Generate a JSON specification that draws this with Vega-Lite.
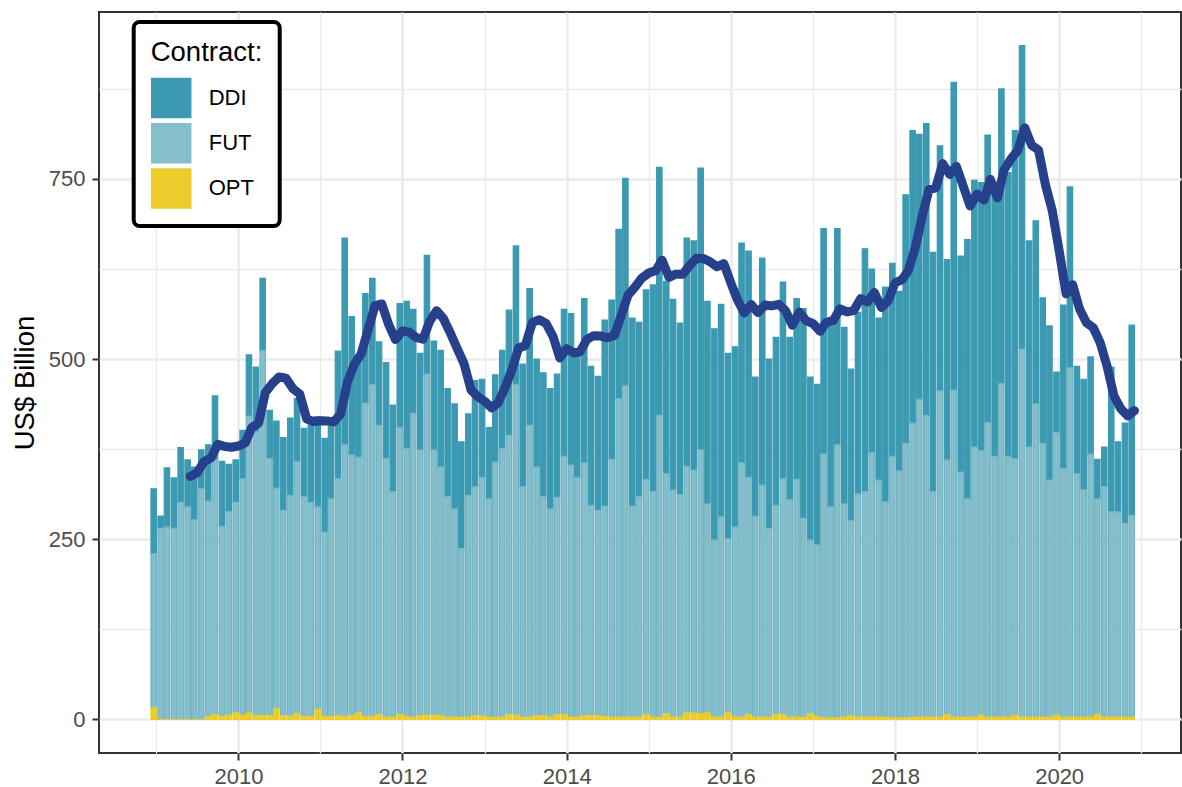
{
  "$schema": "https://vega.github.io/schema/vega-lite/v6.json",
  "width": 1082,
  "height": 741,
  "autosize": "none",
  "padding": {"left": 99, "top": 12, "right": 1, "bottom": 34},
  "background": "white",
  "config": {
    "font": "Liberation Sans",
    "view": {"stroke": "#333333", "strokeWidth": 2},
    "legend": {"strokeWidth": 4}
  },
  "data": {
    "values": [
      {"d":"2009-01-01","DDI":90,"FUT":214,"OPT":16},
      {"d":"2009-02-01","DDI":17,"FUT":265,"OPT":0},
      {"d":"2009-03-01","DDI":82,"FUT":267,"OPT":0},
      {"d":"2009-04-01","DDI":70,"FUT":265,"OPT":0},
      {"d":"2009-05-01","DDI":76,"FUT":301,"OPT":0},
      {"d":"2009-06-01","DDI":65,"FUT":295,"OPT":0},
      {"d":"2009-07-01","DDI":73,"FUT":277,"OPT":0},
      {"d":"2009-08-01","DDI":54,"FUT":320,"OPT":0},
      {"d":"2009-09-01","DDI":78,"FUT":299,"OPT":4},
      {"d":"2009-10-01","DDI":89,"FUT":353,"OPT":7},
      {"d":"2009-11-01","DDI":90,"FUT":264,"OPT":4},
      {"d":"2009-12-01","DDI":66,"FUT":282,"OPT":6},
      {"d":"2010-01-01","DDI":59,"FUT":292,"OPT":9},
      {"d":"2010-02-01","DDI":67,"FUT":328,"OPT":6},
      {"d":"2010-03-01","DDI":85,"FUT":412,"OPT":9},
      {"d":"2010-04-01","DDI":90,"FUT":394,"OPT":5},
      {"d":"2010-05-01","DDI":100,"FUT":507,"OPT":5},
      {"d":"2010-06-01","DDI":67,"FUT":357,"OPT":5},
      {"d":"2010-07-01","DDI":93,"FUT":306,"OPT":15},
      {"d":"2010-08-01","DDI":101,"FUT":285,"OPT":5},
      {"d":"2010-09-01","DDI":107,"FUT":307,"OPT":4},
      {"d":"2010-10-01","DDI":87,"FUT":350,"OPT":8},
      {"d":"2010-11-01","DDI":95,"FUT":305,"OPT":4},
      {"d":"2010-12-01","DDI":107,"FUT":297,"OPT":4},
      {"d":"2011-01-01","DDI":125,"FUT":281,"OPT":14},
      {"d":"2011-02-01","DDI":130,"FUT":256,"OPT":4},
      {"d":"2011-03-01","DDI":104,"FUT":302,"OPT":4},
      {"d":"2011-04-01","DDI":177,"FUT":329,"OPT":5},
      {"d":"2011-05-01","DDI":287,"FUT":377,"OPT":4},
      {"d":"2011-06-01","DDI":192,"FUT":362,"OPT":5},
      {"d":"2011-07-01","DDI":141,"FUT":355,"OPT":9},
      {"d":"2011-08-01","DDI":152,"FUT":435,"OPT":4},
      {"d":"2011-09-01","DDI":147,"FUT":461,"OPT":4},
      {"d":"2011-10-01","DDI":116,"FUT":401,"OPT":7},
      {"d":"2011-11-01","DDI":133,"FUT":359,"OPT":3},
      {"d":"2011-12-01","DDI":120,"FUT":313,"OPT":3},
      {"d":"2012-01-01","DDI":172,"FUT":398,"OPT":7},
      {"d":"2012-02-01","DDI":204,"FUT":372,"OPT":4},
      {"d":"2012-03-01","DDI":144,"FUT":422,"OPT":3},
      {"d":"2012-04-01","DDI":134,"FUT":369,"OPT":5},
      {"d":"2012-05-01","DDI":165,"FUT":473,"OPT":6},
      {"d":"2012-06-01","DDI":151,"FUT":368,"OPT":6},
      {"d":"2012-07-01","DDI":162,"FUT":345,"OPT":5},
      {"d":"2012-08-01","DDI":150,"FUT":306,"OPT":3},
      {"d":"2012-09-01","DDI":146,"FUT":289,"OPT":3},
      {"d":"2012-10-01","DDI":148,"FUT":234,"OPT":3},
      {"d":"2012-11-01","DDI":113,"FUT":308,"OPT":3},
      {"d":"2012-12-01","DDI":147,"FUT":318,"OPT":5},
      {"d":"2013-01-01","DDI":136,"FUT":331,"OPT":5},
      {"d":"2013-02-01","DDI":99,"FUT":303,"OPT":3},
      {"d":"2013-03-01","DDI":121,"FUT":354,"OPT":3},
      {"d":"2013-04-01","DDI":136,"FUT":373,"OPT":3},
      {"d":"2013-05-01","DDI":174,"FUT":387,"OPT":7},
      {"d":"2013-06-01","DDI":192,"FUT":459,"OPT":6},
      {"d":"2013-07-01","DDI":170,"FUT":320,"OPT":3},
      {"d":"2013-08-01","DDI":190,"FUT":405,"OPT":3},
      {"d":"2013-09-01","DDI":150,"FUT":345,"OPT":5},
      {"d":"2013-10-01","DDI":172,"FUT":304,"OPT":5},
      {"d":"2013-11-01","DDI":167,"FUT":289,"OPT":3},
      {"d":"2013-12-01","DDI":171,"FUT":301,"OPT":7},
      {"d":"2014-01-01","DDI":204,"FUT":358,"OPT":7},
      {"d":"2014-02-01","DDI":210,"FUT":350,"OPT":3},
      {"d":"2014-03-01","DDI":174,"FUT":333,"OPT":3},
      {"d":"2014-04-01","DDI":228,"FUT":351,"OPT":5},
      {"d":"2014-05-01","DDI":193,"FUT":292,"OPT":5},
      {"d":"2014-06-01","DDI":186,"FUT":285,"OPT":5},
      {"d":"2014-07-01","DDI":258,"FUT":292,"OPT":4},
      {"d":"2014-08-01","DDI":221,"FUT":358,"OPT":3},
      {"d":"2014-09-01","DDI":235,"FUT":442,"OPT":3},
      {"d":"2014-10-01","DDI":288,"FUT":460,"OPT":3},
      {"d":"2014-11-01","DDI":261,"FUT":293,"OPT":3},
      {"d":"2014-12-01","DDI":242,"FUT":306,"OPT":3},
      {"d":"2015-01-01","DDI":263,"FUT":326,"OPT":7},
      {"d":"2015-02-01","DDI":287,"FUT":313,"OPT":3},
      {"d":"2015-03-01","DDI":344,"FUT":419,"OPT":3},
      {"d":"2015-04-01","DDI":267,"FUT":333,"OPT":8},
      {"d":"2015-05-01","DDI":265,"FUT":315,"OPT":3},
      {"d":"2015-06-01","DDI":238,"FUT":309,"OPT":3},
      {"d":"2015-07-01","DDI":317,"FUT":342,"OPT":9},
      {"d":"2015-08-01","DDI":318,"FUT":337,"OPT":9},
      {"d":"2015-09-01","DDI":391,"FUT":366,"OPT":8},
      {"d":"2015-10-01","DDI":281,"FUT":290,"OPT":9},
      {"d":"2015-11-01","DDI":293,"FUT":246,"OPT":3},
      {"d":"2015-12-01","DDI":295,"FUT":278,"OPT":3},
      {"d":"2016-01-01","DDI":257,"FUT":241,"OPT":10},
      {"d":"2016-02-01","DDI":250,"FUT":264,"OPT":3},
      {"d":"2016-03-01","DDI":305,"FUT":353,"OPT":3},
      {"d":"2016-04-01","DDI":314,"FUT":329,"OPT":7},
      {"d":"2016-05-01","DDI":193,"FUT":279,"OPT":3},
      {"d":"2016-06-01","DDI":315,"FUT":322,"OPT":3},
      {"d":"2016-07-01","DDI":235,"FUT":262,"OPT":3},
      {"d":"2016-08-01","DDI":233,"FUT":290,"OPT":7},
      {"d":"2016-09-01","DDI":273,"FUT":327,"OPT":7},
      {"d":"2016-10-01","DDI":225,"FUT":302,"OPT":3},
      {"d":"2016-11-01","DDI":251,"FUT":330,"OPT":3},
      {"d":"2016-12-01","DDI":291,"FUT":276,"OPT":3},
      {"d":"2017-01-01","DDI":226,"FUT":241,"OPT":8},
      {"d":"2017-02-01","DDI":223,"FUT":238,"OPT":4},
      {"d":"2017-03-01","DDI":313,"FUT":366,"OPT":2},
      {"d":"2017-04-01","DDI":252,"FUT":293,"OPT":2},
      {"d":"2017-05-01","DDI":300,"FUT":379,"OPT":2},
      {"d":"2017-06-01","DDI":245,"FUT":296,"OPT":3},
      {"d":"2017-07-01","DDI":210,"FUT":271,"OPT":5},
      {"d":"2017-08-01","DDI":252,"FUT":310,"OPT":3},
      {"d":"2017-09-01","DDI":337,"FUT":313,"OPT":3},
      {"d":"2017-10-01","DDI":255,"FUT":367,"OPT":3},
      {"d":"2017-11-01","DDI":225,"FUT":329,"OPT":3},
      {"d":"2017-12-01","DDI":298,"FUT":299,"OPT":3},
      {"d":"2018-01-01","DDI":268,"FUT":363,"OPT":2},
      {"d":"2018-02-01","DDI":249,"FUT":343,"OPT":2},
      {"d":"2018-03-01","DDI":345,"FUT":381,"OPT":2},
      {"d":"2018-04-01","DDI":406,"FUT":408,"OPT":3},
      {"d":"2018-05-01","DDI":368,"FUT":441,"OPT":3},
      {"d":"2018-06-01","DDI":405,"FUT":419,"OPT":3},
      {"d":"2018-07-01","DDI":332,"FUT":313,"OPT":3},
      {"d":"2018-08-01","DDI":340,"FUT":453,"OPT":3},
      {"d":"2018-09-01","DDI":278,"FUT":353,"OPT":7},
      {"d":"2018-10-01","DDI":427,"FUT":454,"OPT":3},
      {"d":"2018-11-01","DDI":300,"FUT":340,"OPT":3},
      {"d":"2018-12-01","DDI":360,"FUT":303,"OPT":3},
      {"d":"2019-01-01","DDI":370,"FUT":375,"OPT":3},
      {"d":"2019-02-01","DDI":372,"FUT":367,"OPT":6},
      {"d":"2019-03-01","DDI":399,"FUT":409,"OPT":3},
      {"d":"2019-04-01","DDI":365,"FUT":362,"OPT":3},
      {"d":"2019-05-01","DDI":409,"FUT":463,"OPT":3},
      {"d":"2019-06-01","DDI":394,"FUT":362,"OPT":3},
      {"d":"2019-07-01","DDI":455,"FUT":356,"OPT":6},
      {"d":"2019-08-01","DDI":421,"FUT":511,"OPT":3},
      {"d":"2019-09-01","DDI":286,"FUT":375,"OPT":3},
      {"d":"2019-10-01","DDI":254,"FUT":435,"OPT":3},
      {"d":"2019-11-01","DDI":202,"FUT":380,"OPT":3},
      {"d":"2019-12-01","DDI":214,"FUT":329,"OPT":3},
      {"d":"2020-01-01","DDI":84,"FUT":392,"OPT":6},
      {"d":"2020-02-01","DDI":227,"FUT":345,"OPT":3},
      {"d":"2020-03-01","DDI":251,"FUT":485,"OPT":3},
      {"d":"2020-04-01","DDI":149,"FUT":338,"OPT":3},
      {"d":"2020-05-01","DDI":153,"FUT":316,"OPT":3},
      {"d":"2020-06-01","DDI":135,"FUT":365,"OPT":3},
      {"d":"2020-07-01","DDI":55,"FUT":299,"OPT":7},
      {"d":"2020-08-01","DDI":55,"FUT":320,"OPT":3},
      {"d":"2020-09-01","DDI":201,"FUT":285,"OPT":3},
      {"d":"2020-10-01","DDI":97,"FUT":285,"OPT":3},
      {"d":"2020-11-01","DDI":139,"FUT":269,"OPT":3},
      {"d":"2020-12-01","DDI":264,"FUT":280,"OPT":3}
    ]
  },
  "layer": [
    {
      "transform": [{"fold": ["DDI", "FUT", "OPT"], "as": ["Contract", "value"]}],
      "mark": {"type": "bar", "width": 5.4, "xOffset": -2.7, "strokeWidth": 1.2},
      "encoding": {
        "x": {
          "field": "d",
          "type": "temporal",
          "scale": {
            "type": "utc",
            "domain": [
              {"year": 2008, "month": 5, "date": 13, "utc": true},
              {"year": 2021, "month": 6, "date": 4, "utc": true}
            ]
          },
          "axis": {
            "title": null,
            "values": [
              {"year": 2009, "month": 1, "date": 1, "utc": true},
              {"year": 2010, "month": 1, "date": 1, "utc": true},
              {"year": 2011, "month": 1, "date": 1, "utc": true},
              {"year": 2012, "month": 1, "date": 1, "utc": true},
              {"year": 2013, "month": 1, "date": 1, "utc": true},
              {"year": 2014, "month": 1, "date": 1, "utc": true},
              {"year": 2015, "month": 1, "date": 1, "utc": true},
              {"year": 2016, "month": 1, "date": 1, "utc": true},
              {"year": 2017, "month": 1, "date": 1, "utc": true},
              {"year": 2018, "month": 1, "date": 1, "utc": true},
              {"year": 2019, "month": 1, "date": 1, "utc": true},
              {"year": 2020, "month": 1, "date": 1, "utc": true},
              {"year": 2021, "month": 1, "date": 1, "utc": true}
            ],
            "format": "%Y",
            "formatType": "utc",
            "labelExpr": "utcyear(datum.value) % 2 == 0 ? datum.label : ''",
            "labelFontSize": 22,
            "labelColor": "#4D4D4D",
            "labelPadding": 6,
            "labelFlush": false,
            "labelOverlap": false,
            "domain": false,
            "tickColor": "#333333",
            "tickSize": 7,
            "tickWidth": 2,
            "tickOpacity": {"condition": {"test": "utcyear(datum.value) % 2 == 0", "value": 1}, "value": 0},
            "gridColor": "#EBEBEB",
            "gridWidth": {"condition": {"test": "utcyear(datum.value) % 2 == 0", "value": 2.6}, "value": 1.3}
          }
        },
        "y": {
          "field": "value",
          "type": "quantitative",
          "stack": "zero",
          "scale": {"domain": [-46.75, 981.75], "nice": false, "zero": false},
          "axis": {
            "title": "US$ Billion",
            "titleFontSize": 27.5,
            "titleFontWeight": "normal",
            "titleColor": "black",
            "titleX": -74,
            "titleBaseline": "middle",
            "values": [0, 125, 250, 375, 500, 625, 750, 875],
            "labelExpr": "datum.value % 250 == 0 ? datum.label : ''",
            "labelFontSize": 22,
            "labelColor": "#4D4D4D",
            "labelPadding": 7,
            "domain": false,
            "tickColor": "#333333",
            "tickSize": 7,
            "tickWidth": 2,
            "tickOpacity": {"condition": {"test": "datum.value % 250 == 0", "value": 1}, "value": 0},
            "gridColor": "#EBEBEB",
            "gridWidth": {"condition": {"test": "datum.value % 250 == 0", "value": 2.6}, "value": 1.3}
          }
        },
        "fill": {
          "field": "Contract",
          "type": "nominal",
          "scale": {"domain": ["DDI", "FUT", "OPT"], "range": ["#3B9AB2", "#86BECB", "#EBCC2A"]},
          "legend": {
            "title": "Contract:",
            "orient": "none",
            "legendX": 34.7,
            "legendY": 10,
            "direction": "vertical",
            "symbolType": "square",
            "symbolSize": 1640,
            "symbolStrokeWidth": 0,
            "symbolOpacity": 1,
            "labelFontSize": 22,
            "labelColor": "black",
            "labelOffset": 17,
            "titleFontSize": 27.5,
            "titleFontWeight": "normal",
            "titleColor": "black",
            "titlePadding": 11,
            "rowPadding": 4.2,
            "padding": 17,
            "strokeColor": "black",
            "cornerRadius": 6,
            "fillColor": "white"
          }
        },
        "stroke": {
          "field": "Contract",
          "type": "nominal",
          "scale": {"domain": ["DDI", "FUT", "OPT"], "range": ["#3B9AB2", "#72B4C3", "#EBCC2A"]},
          "legend": null
        },
        "order": {"field": "Contract", "sort": "descending"}
      }
    },
    {
      "transform": [
        {"fold": ["DDI", "FUT", "OPT"], "as": ["Contract", "value"]},
        {"aggregate": [{"op": "sum", "field": "value", "as": "total"}], "groupby": ["d"]},
        {"window": [{"op": "mean", "field": "total", "as": "avg"}, {"op": "count", "as": "n"}], "frame": [-5, 0], "sort": [{"field": "d", "order": "ascending"}]},
        {"filter": "datum.n == 6"}
      ],
      "mark": {"type": "line", "color": "#27408B", "strokeWidth": 9, "strokeCap": "round", "strokeJoin": "round"},
      "encoding": {
        "x": {"field": "d", "type": "temporal"},
        "y": {"field": "avg", "type": "quantitative"}
      }
    }
  ]
}
